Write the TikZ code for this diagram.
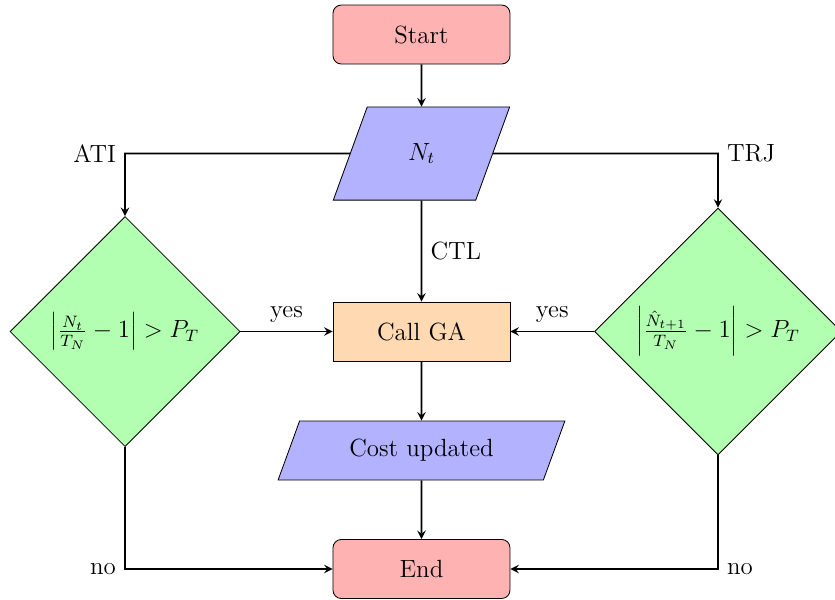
\documentclass[12pt,tikz,border=0pt]{standalone}
\usetikzlibrary{shapes.geometric,arrows}
\tikzset{
  startstop/.style={rectangle, rounded corners, minimum width=3cm, minimum height=1cm, text centered, draw=black, fill=red!30},
  io/.style={trapezium, trapezium left angle=70, trapezium right angle=110, minimum width=3cm, minimum height=1cm, text centered, draw=black, fill=blue!30},
  process/.style={rectangle, minimum width=3cm, minimum height=1cm, text centered, draw=black, fill=orange!30},
  decision/.style={diamond, minimum width=3cm, minimum height=1cm, text centered, draw=black, fill=green!30, aspect=1},
  arrow/.style={thick,->,>=stealth}
}
\begin{document}
\begin{tikzpicture}
\useasboundingbox (0,0) rectangle (14.153,-10.169);
\node (start) [startstop] at (7.144,-0.585) {Start};
\node (in) [io] at (7.144,-2.602) {$N_t$};
\node (ga) [process] at (7.144,-5.619) {Call GA};
\node (cost) [io] at (7.144,-7.636) {Cost updated};
\node (stop) [startstop] at (7.144,-9.644) {End};
\node (d1) [decision, minimum width=3.9cm, minimum height=3.9cm] at (2.119,-5.619) {$\left|\frac{N_t}{T_N}-1\right| > P_T$};
\node (d2) [decision] at (12.17,-5.619) {$\left|\frac{\hat{N}_{t+1}}{T_N}-1\right| > P_T$};
\coordinate (c1) at (d1 |- in);
\coordinate (c2) at (d2 |- in);
\coordinate (c3) at (d1 |- stop);
\coordinate (c4) at (d2 |- stop);
\draw [arrow] (start) -- (in);
\draw [arrow] (in) -- node[anchor=west] {CTL} (ga);
\draw [arrow] (in) -- (c1) node[anchor=east] {ATI} -- (d1);
\draw [arrow] (in) -- (c2) node[anchor=west] {TRJ} -- (d2);
\draw [arrow] (d1) -- node[anchor=south] {yes} (ga);
\draw [arrow] (d2) -- node[anchor=south] {yes} (ga);
\draw [arrow] (ga) -- (cost);
\draw [arrow] (cost) -- (stop);
\draw [arrow] (d1) -- (c3) node[anchor=east] {no} -- (stop);
\draw [arrow] (d2) -- (c4) node[anchor=west] {no} -- (stop);
\end{tikzpicture}
\end{document}
